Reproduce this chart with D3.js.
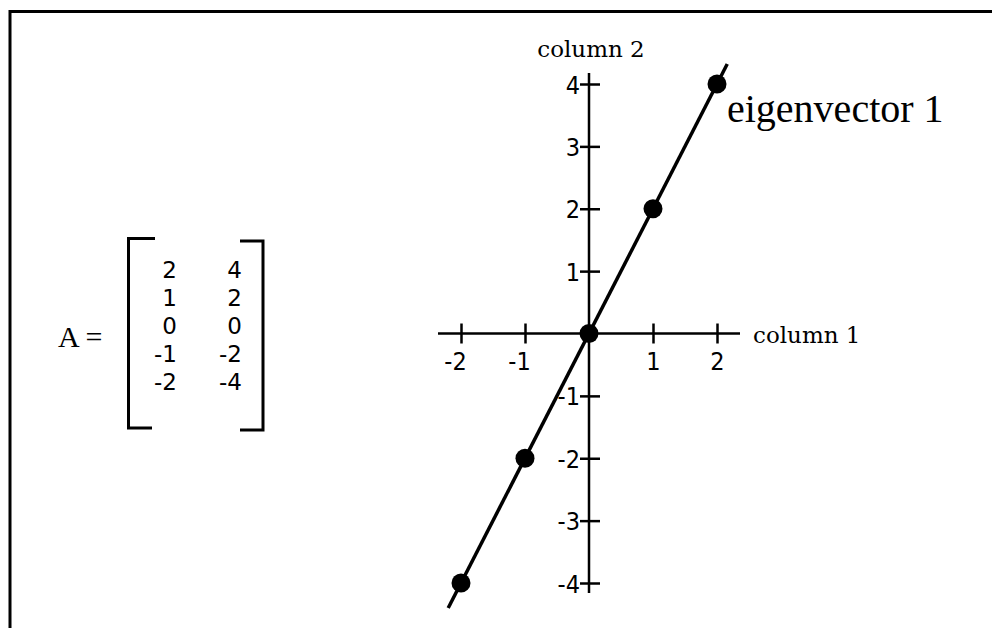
<!DOCTYPE html>
<html>
<head>
<meta charset="utf-8">
<script src="https://cdn.jsdelivr.net/npm/d3@7"></script>
<style>
  html, body { margin: 0; padding: 0; background: #fff; }
  svg { display: block; }
</style>
</head>
<body>
<svg id="chart" width="992" height="628"></svg>
<script>
// Matrix A: each row is a point (column 1, column 2)
const matrixRows = [[2, 4], [1, 2], [0, 0], [-1, -2], [-2, -4]];
const xTicks = [-2, -1, 1, 2];
const yTicks = [4, 3, 2, 1, -1, -2, -3, -4];
const eigenvector = [1, 2];
const lineExtent = [-2.2, 2.16];

const SANS = '"DejaVu Sans", sans-serif';
const SANS_NARROW = '"DejaVu Sans Condensed", "Liberation Sans", sans-serif';
const SERIF_WIDE = '"DejaVu Serif", serif';
const SERIF = '"Liberation Serif", "Times New Roman", serif';

const svg = d3.select("#chart");

// frame (top and left edges)
svg.append("line").attr("x1", 9).attr("x2", 992).attr("y1", 11.5).attr("y2", 11.5)
  .attr("stroke", "#000").attr("stroke-width", 3);
svg.append("line").attr("x1", 10).attr("x2", 10).attr("y1", 10).attr("y2", 628)
  .attr("stroke", "#000").attr("stroke-width", 3);

// ---- matrix display ----
const mg = svg.append("g");
mg.append("text").attr("x", 58).attr("y", 347)
  .attr("font-family", SERIF).attr("font-size", 30).text("A =");
const colRight = [177, 242];
const rowY = d3.scaleLinear().domain([0, matrixRows.length - 1]).range([278, 390]);
matrixRows.forEach((r, i) => {
  r.forEach((v, j) => {
    mg.append("text").attr("x", colRight[j]).attr("y", rowY(i))
      .attr("text-anchor", "end").attr("font-family", SANS).attr("font-size", 23)
      .text(String(v));
  });
});
// brackets
mg.append("path").attr("d", "M155,238.5 H128.5 V428 H152")
  .attr("fill", "none").attr("stroke", "#000").attr("stroke-width", 3);
mg.append("path").attr("d", "M240,241 H263 V430 H240")
  .attr("fill", "none").attr("stroke", "#000").attr("stroke-width", 3);

// ---- plot ----
const x = d3.scaleLinear().domain([-2, 2]).range([461, 717]);
const y = d3.scaleLinear().domain([-4, 4]).range([583, 84]);

// horizontal axis through y = 0
const xAxis = svg.append("g").attr("transform", `translate(0,${y(0)})`)
  .call(d3.axisBottom(x).tickValues(xTicks).tickSize(10).tickSizeOuter(0)
    .tickFormat(d => String(d)));
xAxis.select(".domain").attr("d", `M438,0H740`).attr("stroke-width", 2.5);
xAxis.selectAll(".tick line").attr("y1", -10).attr("y2", 10).attr("stroke-width", 2.5);
xAxis.selectAll(".tick text")
  .attr("font-family", SANS_NARROW).attr("font-size", 25).attr("fill", "#000")
  .attr("y", 36).attr("dy", null)
  .attr("dx", d => d < 0 ? -6 : 0);

// vertical axis through x = 0
const yAxis = svg.append("g").attr("transform", `translate(${x(0)},0)`)
  .call(d3.axisLeft(y).tickValues(yTicks).tickSize(9).tickSizeOuter(0)
    .tickFormat(d => String(d)));
yAxis.select(".domain").attr("d", `M0,73V593`).attr("stroke-width", 2.5);
yAxis.selectAll(".tick line").attr("x1", -9).attr("x2", 11).attr("stroke-width", 2.5);
yAxis.selectAll(".tick text")
  .attr("font-family", SANS_NARROW).attr("font-size", 25).attr("fill", "#000")
  .attr("x", -9).attr("dy", "0.36em");

// axis titles
svg.append("text").attr("x", x(0) + 2).attr("y", 57)
  .attr("text-anchor", "middle").attr("font-family", SERIF_WIDE).attr("font-size", 23)
  .text("column 2");
svg.append("text").attr("x", 753).attr("y", 343)
  .attr("font-family", SERIF_WIDE).attr("font-size", 23).text("column 1");

// eigenvector line
const linePts = lineExtent.map(t => [t * eigenvector[0], t * eigenvector[1]]);
svg.append("path")
  .datum(linePts)
  .attr("d", d3.line().x(d => x(d[0])).y(d => y(d[1])))
  .attr("stroke", "#000").attr("stroke-width", 3.5).attr("fill", "none");

// data points (rows of A)
svg.selectAll("circle.pt").data(matrixRows).join("circle")
  .attr("class", "pt")
  .attr("cx", d => x(d[0])).attr("cy", d => y(d[1])).attr("r", 9.5)
  .attr("fill", "#000");

svg.append("text").attr("x", 727).attr("y", 122)
  .attr("font-family", SERIF).attr("font-size", 40).text("eigenvector 1");
</script>
</body>
</html>
